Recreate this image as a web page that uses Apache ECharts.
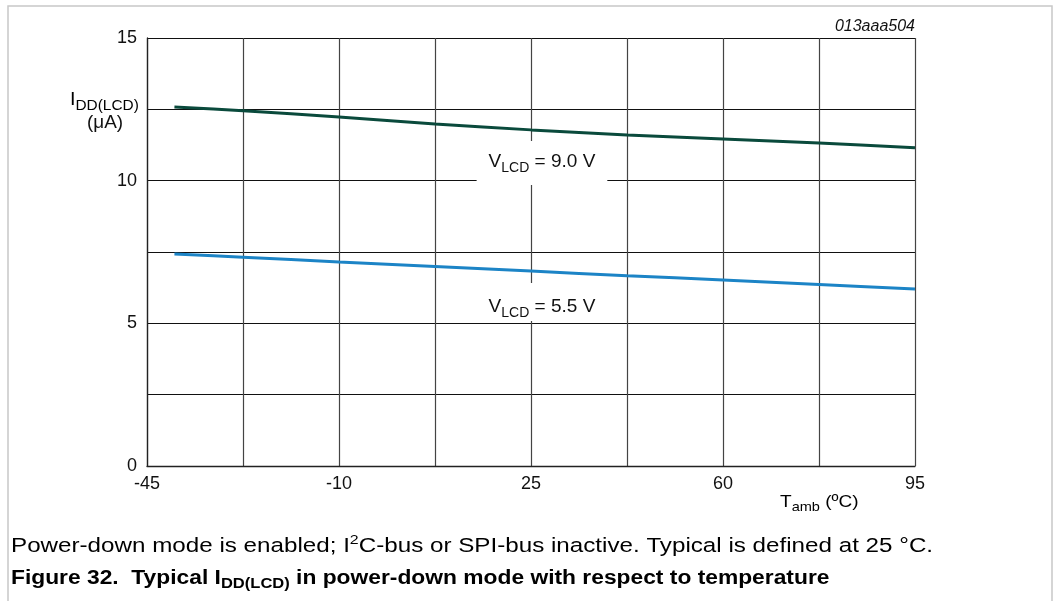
<!DOCTYPE html>
<html><head><meta charset="utf-8">
<script src="https://cdn.jsdelivr.net/npm/echarts@6/dist/echarts.min.js"></script>
<style>html,body{margin:0;padding:0;background:#fff;}#c{width:1064px;height:601px;}</style>
</head><body><div id="c"></div>
<script>
// Data
const temps = [-40, -27.5, -10, 7.5, 25, 42.5, 60, 77.5, 95];
const idd90 = [12.58, 12.45, 12.23, 11.99, 11.78, 11.6, 11.46, 11.32, 11.15];
const idd55 = [7.43, 7.32, 7.15, 6.99, 6.83, 6.67, 6.52, 6.36, 6.2];
const xTickLabels = [-45, -10, 25, 60, 95];
const yTickLabels = [0, 5, 10, 15];
const seriesNames = ['VLCD = 9.0 V', 'VLCD = 5.5 V'];
const labelAnchors = [[27, 10.62], [27, 5.75]];

const X_MIN = -45, X_MAX = 95, X_STEP = 17.5;
const FONT = "'Liberation Sans', Arial, sans-serif";

const chart = echarts.init(document.getElementById('c'), null, {renderer: 'canvas'});

function pts(vals) { return temps.map((t, i) => [t - X_MIN, vals[i]]); }

const subRich = {
  v: {fontSize: 19, fontFamily: FONT, color: '#111', lineHeight: 24},
  s: {fontSize: 14, fontFamily: FONT, color: '#111', lineHeight: 12, padding: [12, 0, 0, 0]}
};
function vlabel(txt, anchor, pad) {
  return {
    symbol: 'circle', symbolSize: 0,
    data: [{coord: [anchor[0] - X_MIN, anchor[1]], value: txt}],
    label: {
      show: true, position: 'inside',
      formatter: '{v|V}{s|LCD}{v| = ' + txt + '}',
      backgroundColor: '#fff', padding: pad, rich: subRich
    },
    emphasis: {disabled: true}
  };
}

chart.setOption({
  animation: false,
  backgroundColor: '#fff',
  grid: {left: 147, right: 149, top: 38, bottom: 135, containLabel: false},
  xAxis: {
    type: 'value', min: 0, max: X_MAX - X_MIN, interval: X_STEP,
    axisLine: {show: true, lineStyle: {color: '#222', width: 1.3}},
    axisTick: {show: false},
    axisLabel: {
      margin: 9, fontSize: 18, fontFamily: FONT, color: '#111',
      formatter: v => { const t = Math.round((v + X_MIN) * 10) / 10; return xTickLabels.includes(t) ? String(t) : ''; }
    },
    splitLine: {show: true, lineStyle: {color: '#444', width: 1.2}}
  },
  yAxis: {
    type: 'value', min: 0, max: 15, interval: 2.5,
    axisLine: {show: true, lineStyle: {color: '#222', width: 1.3}},
    axisTick: {show: false},
    axisLabel: {
      margin: 10, fontSize: 18, fontFamily: FONT, color: '#111',
      formatter: v => yTickLabels.includes(v) ? String(v) : ''
    },
    splitLine: {show: true, lineStyle: {color: '#111', width: 1.2}}
  },
  series: [
    {
      name: seriesNames[0], type: 'line', data: pts(idd90), smooth: 0.3, symbol: 'none',
      lineStyle: {color: '#0a4a3c', width: 3}, z: 3,
      markPoint: vlabel('9.0 V', labelAnchors[0], [9, 12, 11, 12])
    },
    {
      name: seriesNames[1], type: 'line', data: pts(idd55), smooth: 0.3, symbol: 'none',
      lineStyle: {color: '#1c84c6', width: 3}, z: 3,
      markPoint: vlabel('5.5 V', labelAnchors[1], [12, 12, 2, 12])
    }
  ],
  graphic: [
    {type: 'rect', shape: {x: 8, y: 6, width: 1044, height: 600}, style: {fill: 'none', stroke: '#c8c8c8', lineWidth: 1.5}, silent: true},
    {type: 'text', x: 70, y: 88, scaleX: 1.1, style: {
      text: '{i|I}{s|DD(LCD)}', rich: {
        i: {fontSize: 18, fontFamily: FONT, color: '#111', lineHeight: 24},
        s: {fontSize: 14, fontFamily: FONT, color: '#111', lineHeight: 12, padding: [12, 0, 0, 0]}
      }}},
    {type: 'text', x: 87, y: 114, scaleX: 1.08, style: {text: '(μA)', fontSize: 17.5, fontFamily: FONT, fill: '#111'}},
    {type: 'text', x: 915, y: 19, style: {text: '013aaa504', align: 'right', fontSize: 16, fontStyle: 'italic', fontFamily: FONT, fill: '#111'}},
    {type: 'text', x: 780, y: 491, scaleX: 1.12, style: {
      text: '{t|T}{s|amb}{t| (ºC)}', rich: {
        t: {fontSize: 17, fontFamily: FONT, color: '#111', lineHeight: 22},
        s: {fontSize: 13, fontFamily: FONT, color: '#111', lineHeight: 12, padding: [10, 0, 0, 0]}
      }}},
    {type: 'text', x: 11, y: 533, scaleX: 1.18, style: {
      text: '{t|Power-down mode is enabled; I}{p|2}{t|C-bus or SPI-bus inactive. Typical is defined at 25 °C.}', rich: {
        t: {fontSize: 20.5, fontFamily: FONT, color: '#111', lineHeight: 26},
        p: {fontSize: 13.5, fontFamily: FONT, color: '#111', lineHeight: 15, padding: [0, 0, 11, 0]}
      }}},
    {type: 'text', x: 11, y: 566, scaleX: 1.14, style: {
      text: '{t|Figure 32.  Typical I}{s|DD(LCD)}{t| in power-down mode with respect to temperature}', rich: {
        t: {fontSize: 20, fontWeight: 'bold', fontFamily: FONT, color: '#3a3a3a', lineHeight: 24},
        s: {fontSize: 14.5, fontWeight: 'bold', fontFamily: FONT, color: '#3a3a3a', lineHeight: 12, padding: [12, 0, 0, 0]}
      }}}
  ]
});
</script>
</body></html>
